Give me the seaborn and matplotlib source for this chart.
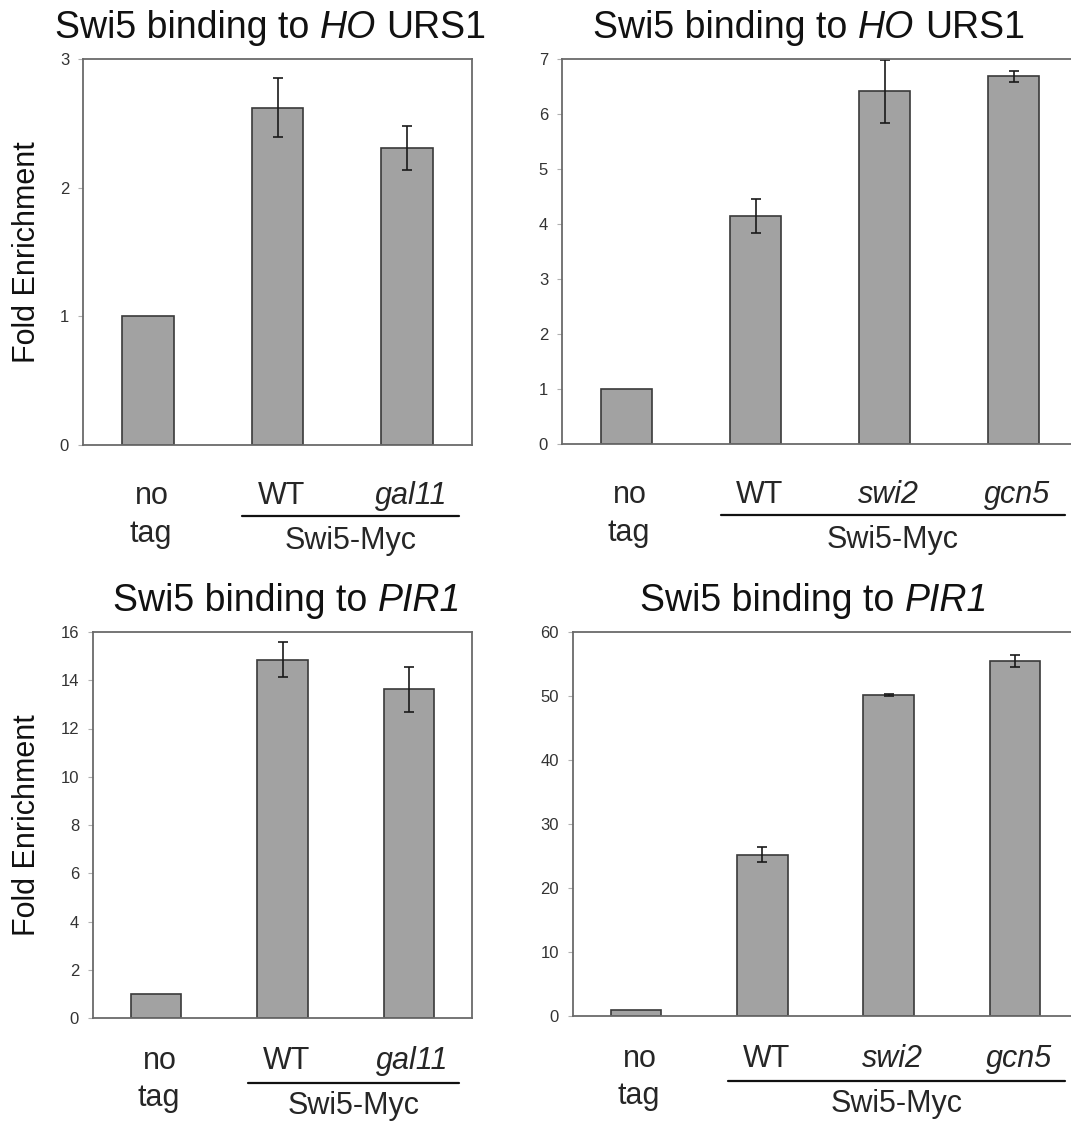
import matplotlib
matplotlib.use("Agg")
import matplotlib.pyplot as plt
import matplotlib.transforms as mtransforms
from matplotlib.offsetbox import TextArea, HPacker, AnchoredOffsetbox
import pandas as pd
import seaborn as sns

sns.set_theme(style="white")
plt.rcParams['font.family'] = ['Liberation Sans', 'DejaVu Sans']

# Dados
cat_gal = ["no tag", "WT", "gal11"]
cat_swi = ["no tag", "WT", "swi2", "gcn5"]

ho_gal_val = [1.0, 2.62, 2.31]
ho_gal_err = [0.0, 0.23, 0.17]

ho_swi_val = [1.0, 4.14, 6.41, 6.69]
ho_swi_err = [0.0, 0.31, 0.58, 0.10]

pir_gal_val = [1.0, 14.85, 13.63]
pir_gal_err = [0.0, 0.73, 0.93]

pir_swi_val = [1.0, 25.2, 50.15, 55.5]
pir_swi_err = [0.0, 1.2, 0.15, 0.9]

ylims = [(0, 3), (0, 7), (0, 16), (0, 60)]
yticks = [range(0, 4), range(0, 8), range(0, 17, 2), range(0, 61, 10)]

# títulos: (texto normal, texto itálico, texto final)
titles = [("Swi5 binding to", "HO", "URS1"),
          ("Swi5 binding to", "HO", "URS1"),
          ("Swi5 binding to", "PIR1", None),
          ("Swi5 binding to", "PIR1", None)]

W, H = 1071, 1123
fig = plt.figure(figsize=(W / 100, H / 100), dpi=100)

# posições dos eixos em pixels: esquerda, topo, direita, base
boxes = [(83, 59, 472, 445), (562, 59, 1078, 444),
         (93, 632, 472, 1018), (573, 632, 1078, 1016)]
title_x = [0.483, 0.479, 0.512, 0.477]
# deslocamentos (px) abaixo do eixo: linha 1, linha 2, traço, Swi5-Myc
offsets = [(59, 97, 71, 104), (59, 97, 71, 104),
           (51, 88, 65, 96), (51, 88, 65, 96)]

panels = [(cat_gal, ho_gal_val, ho_gal_err), (cat_swi, ho_swi_val, ho_swi_err),
          (cat_gal, pir_gal_val, pir_gal_err), (cat_swi, pir_swi_val, pir_swi_err)]

TSIZE = 27
for i, (cats, vals, errs) in enumerate(panels):
    l, t, r, b = boxes[i]
    ax = fig.add_axes([l / W, 1 - b / H, (r - l) / W, (b - t) / H])
    df = pd.DataFrame({'cond': cats, 'val': vals, 'err': errs})
    sns.barplot(data=df, x='cond', y='val', order=cats, color='#a2a2a2',
                saturation=1, width=0.4, edgecolor='#3a3a3a', linewidth=1.2,
                errorbar=None, ax=ax)
    sub = df[df['err'] > 0]
    xpos = [cats.index(c) for c in sub['cond']]
    ax.errorbar(xpos, sub['val'], yerr=sub['err'], fmt='none', ecolor='#1a1a1a',
                elinewidth=1.2, capsize=3.5, capthick=1.2)

    ax.set_xlim(-0.5, len(cats) - 0.5)
    ax.set_ylim(*ylims[i])
    ax.set_yticks(list(yticks[i]))
    ax.set_xticks([])
    ax.set_xlabel('')
    ax.set_ylabel('')
    ax.tick_params(axis='y', left=True, length=3.5, width=0.8, color='#b0b0b0',
                   pad=6.5, labelsize=12, labelcolor='#333333')
    for side, sp in ax.spines.items():
        sp.set_color('#6a6a6a')
        sp.set_linewidth(1.3)

    # título com parte em itálico
    t_norm, t_it, t_end = titles[i]
    parts = [TextArea(t_norm, textprops=dict(fontsize=TSIZE, color='#111111')),
             TextArea(t_it, textprops=dict(fontsize=TSIZE, color='#111111', fontstyle='italic'))]
    if t_end:
        parts.append(TextArea(t_end, textprops=dict(fontsize=TSIZE, color='#111111')))
    pack = HPacker(children=parts, align='baseline', pad=0, sep=0.278 * TSIZE)
    anch = AnchoredOffsetbox(loc='lower center', child=pack, pad=0, borderpad=0,
                             frameon=False, bbox_to_anchor=(title_x[i], 1 + 13 / (b - t)),
                             bbox_transform=ax.transAxes)
    ax.add_artist(anch)

    if i % 2 == 0:
        ax.set_ylabel('Fold Enrichment', fontsize=22, color='#111111')
        ax.yaxis.set_label_coords((42 - l) / (r - l), 0.5)

    o1, o2, oline, ogrp = offsets[i]
    base = mtransforms.blended_transform_factory(ax.transData, ax.transAxes)
    # rótulos das categorias
    for k, c in enumerate(cats):
        if c == "no tag":
            ax.annotate("no", (k + 0.03, 0), xycoords=base, xytext=(0, -o1),
                        textcoords='offset pixels', ha='center', va='baseline',
                        fontsize=22, annotation_clip=False)
            ax.annotate("tag", (k + 0.02, 0), xycoords=base, xytext=(0, -o2),
                        textcoords='offset pixels', ha='center', va='baseline',
                        fontsize=22, annotation_clip=False)
        else:
            style = 'normal' if c == "WT" else 'italic'
            ax.annotate(c, (k + 0.03, 0), xycoords=base, xytext=(0, -o1),
                        textcoords='offset pixels', ha='center', va='baseline',
                        fontsize=22, fontstyle=style, annotation_clip=False)
    # traço do grupo Swi5-Myc
    x0, x1 = 0.73, len(cats) - 1 + 0.4
    ltrans = mtransforms.offset_copy(base, fig=fig, x=0, y=-oline, units='dots')
    ax.plot([x0, x1], [0, 0], color='#111111', lw=1.6, transform=ltrans, clip_on=False)
    ax.annotate("Swi5-Myc", ((x0 + x1) / 2, 0), xycoords=base, xytext=(0, -ogrp),
                textcoords='offset pixels', ha='center', va='baseline',
                fontsize=22, annotation_clip=False)

fig.savefig("out.png", dpi=100)
